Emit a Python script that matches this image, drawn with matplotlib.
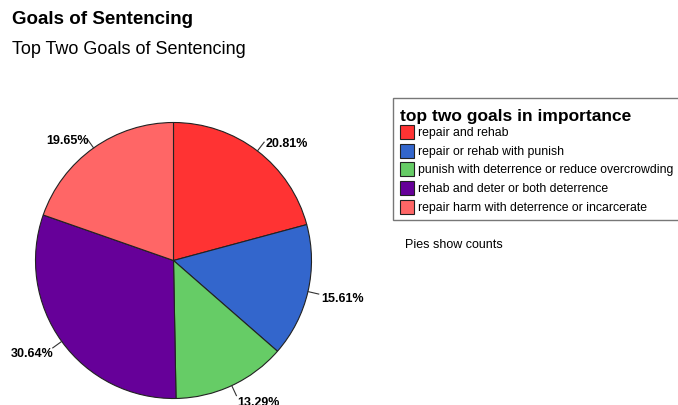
import numpy as np
import matplotlib
matplotlib.use("Agg")
import matplotlib.pyplot as plt
from matplotlib.patches import Rectangle

plt.rcParams['font.family'] = ['Liberation Sans', 'DejaVu Sans']

# data
goals = [
    "repair and rehab",
    "repair or rehab with punish",
    "punish with deterrence or reduce overcrowding",
    "rehab and deter or both deterrence",
    "repair harm with deterrence or incarcerate",
]
shares = [20.81, 15.61, 13.29, 30.64, 19.65]
colors = ["#FF3333", "#3366CC", "#66CC66", "#660099", "#FF6666"]

W, H = 678, 406
fig = plt.figure(figsize=(W / 100, H / 100), dpi=100)


def fx(x):
	return x / W


def fy(y):
	# y measured from the top in pixels
	return 1 - y / H


# titles
fig.text(fx(12), fy(19), "Goals of Sentencing", fontsize=13.5, fontweight='bold',
         ha='left', va='center')
fig.text(fx(12), fy(50), "Top Two Goals of Sentencing", fontsize=13,
         ha='left', va='center')

# pie axes: center (173.5, 261.5) px, radius 138 px
cx, cy, r = 173.5, 261.5, 138
half = 150
ax = fig.add_axes([fx(cx - half), fy(cy + half), (2 * half) / W, (2 * half) / H])

wedges, _ = ax.pie(shares, colors=colors, startangle=90, counterclock=False,
                   radius=1, wedgeprops=dict(edgecolor='#222222', linewidth=0.8))

# pie() resets the limits, so set them afterwards
lim = half / r
ax.set_xlim(-lim, lim)
ax.set_ylim(-lim, lim)
ax.set_aspect('equal')
ax.axis('off')

for w, s in zip(wedges, shares):
	ang = np.deg2rad((w.theta1 + w.theta2) / 2)
	c, sn = np.cos(ang), np.sin(ang)
	ax.plot([c, 1.08 * c], [sn, 1.08 * sn], color='#333333', lw=0.8, clip_on=False)
	ha = 'left' if c >= 0 else 'right'
	dx = 0 if c >= 0 else 0.025
	ax.text(1.1 * c + dx, 1.1 * sn - 0.025, f"{s:.2f}%", fontsize=9, fontweight='bold',
	        ha=ha, va='center', clip_on=False)

# legend box drawn by hand
fig.patches.append(Rectangle((fx(393), fy(221)), fx(690 - 393), (221 - 99) / H,
                             transform=fig.transFigure, facecolor='white',
                             edgecolor='#777777', linewidth=1))
fig.text(fx(400), fy(116), "top two goals in importance", fontsize=12.5,
         fontweight='bold', ha='left', va='center')
for i, (g, col) in enumerate(zip(goals, colors)):
	yc = 133 + i * 18.7
	fig.patches.append(Rectangle((fx(400), fy(yc + 7)), fx(14), 14 / H,
	                             transform=fig.transFigure, facecolor=col,
	                             edgecolor='#222222', linewidth=0.8))
	fig.text(fx(418), fy(yc), g, fontsize=8.8, ha='left', va='center')

fig.text(fx(405), fy(245), "Pies show counts", fontsize=9, ha='left', va='center')

fig.savefig("out.png", dpi=100)
